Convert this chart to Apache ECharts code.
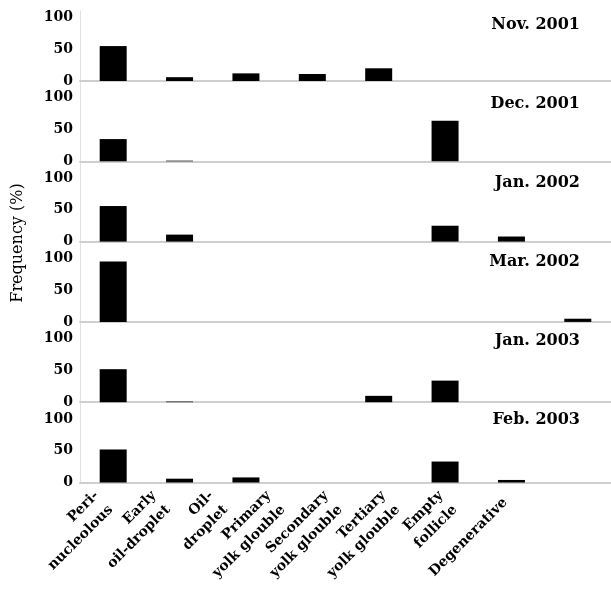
<!DOCTYPE html>
<html>
<head>
<meta charset="utf-8">
<script src="https://cdn.jsdelivr.net/npm/echarts@6/dist/echarts.min.js"></script>
<style>
  html, body { margin: 0; padding: 0; background: #fff; }
  #chart { width: 611px; height: 589px; }
</style>
</head>
<body>
<div id="chart"></div>
<script>
// oocyte stage categories (x axis)
const categories = [
  'Peri-\nnucleolous', 'Early\noil-droplet', 'Oil-\ndroplet', 'Primary\nyolk glouble',
  'Secondary\nyolk glouble', 'Tertiary\nyolk glouble', 'Empty\nfollicle', 'Degenerative'
];
const months = ['Nov. 2001', 'Dec. 2001', 'Jan. 2002', 'Mar. 2002', 'Jan. 2003', 'Feb. 2003'];

// frequency (%) per category, one array per sampling month
const nov2001 = [55, 6, 12, 11, 20, 0, 0, 0];
const dec2001 = [35, 1, 0, 0, 0, 64, 0, 0];
const jan2002 = [56, 11, 0, 0, 0, 25, 8, 0];
const mar2002 = [95, 0, 0, 0, 0, 0, 0, 5];
const jan2003 = [52, 1, 0, 0, 10, 34, 0, 0];
const feb2003 = [52, 6, 8, 0, 0, 33, 4, 0];
const panels = [nov2001, dec2001, jan2002, mar2002, jan2003, feb2003];

const yTicks = [0, 50, 100];

var myChart = echarts.init(document.getElementById('chart'));

const FONT = '"DejaVu Serif", serif';
const PX_PER_100 = 63.5;   // height of 0..100 in each panel
const STEP = 80.3;         // distance between panel baselines
const BASE0 = 81;

const grids = [], xAxes = [], yAxes = [], series = [], titles = [];

panels.forEach((vals, i) => {
  const ymax = i === 0 ? 110 : 126;
  const h = PX_PER_100 * ymax / 100;
  const base = BASE0 + STEP * i;
  grids.push({ left: 80, width: 536, top: base - h, height: h });
  xAxes.push({
    type: 'category',
    gridIndex: i,
    data: categories,
    axisLine: { show: true, lineStyle: { color: '#cfcfcf', width: 2 } },
    axisTick: { show: false },
    axisLabel: { show: false }
  });
  yAxes.push({
    type: 'value',
    gridIndex: i,
    min: 0,
    max: ymax,
    interval: 50,
    axisLine: { show: true, lineStyle: { color: '#e0e0e0', width: 1 } },
    axisTick: { show: false },
    splitLine: { show: false },
    axisLabel: {
      color: '#000',
      fontFamily: FONT,
      fontWeight: 'bold',
      fontSize: 14,
      margin: 7,
      formatter: v => (yTicks.includes(v) ? String(v) : '')
    }
  });
  series.push({
    type: 'bar',
    xAxisIndex: i,
    yAxisIndex: i,
    data: vals,
    barWidth: 27,
    itemStyle: { color: '#000' },
    silent: true
  });
  titles.push({
    text: months[i],
    right: 31,
    top: 25 + 79 * i - 8,
    padding: 0,
    textStyle: { color: '#000', fontFamily: FONT, fontWeight: 'bold', fontSize: 16 }
  });
});

// separate axis for the rotated category names (hand-placed in the original)
grids.push({ left: 75, width: 459, top: BASE0 + STEP * 5 - 1, height: 1 });
xAxes.push({
  type: 'category',
  gridIndex: 6,
  data: categories,
  axisLine: { show: false },
  axisTick: { show: false },
  axisLabel: {
    interval: 0,
    rotate: 45,
    margin: 18,
    color: '#000',
    fontFamily: FONT,
    fontWeight: 'bold',
    fontSize: 14,
    lineHeight: 20
  }
});
yAxes.push({ type: 'value', gridIndex: 6, show: false });

myChart.setOption({
  animation: false,
  title: titles,
  grid: grids,
  xAxis: xAxes,
  yAxis: yAxes,
  series: series,
  graphic: [{
    type: 'text',
    x: 18,
    y: 243,
    rotation: Math.PI / 2,
    style: {
      text: 'Frequency (%)',
      fill: '#000',
      font: '16px "DejaVu Serif", serif',
      textAlign: 'center',
      textVerticalAlign: 'middle'
    }
  }]
});
</script>
</body>
</html>
